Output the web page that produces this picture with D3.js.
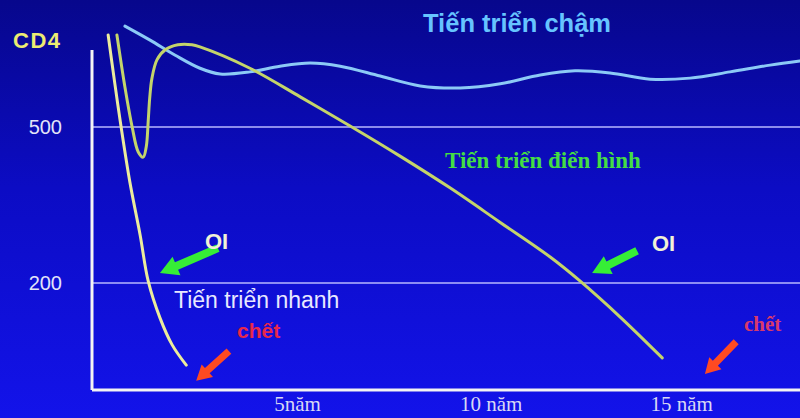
<!DOCTYPE html>
<html><head><meta charset="utf-8">
<script src="https://cdn.jsdelivr.net/npm/d3@7"></script>
<style>html,body{margin:0;padding:0;background:#0c0ca8;}svg{display:block;}</style>
</head><body>
<svg id="c" width="800" height="418"></svg>
<script>
// ---- data ----
const yTicks = [500, 200];
const xTickValues = [5, 10, 15];
const xTickLabels = ["5năm", "10 năm", "15 năm"];
// slow progression (years, CD4)
const slowT = [0.39,1.05,1.71,2.36,2.89,3.67,4.46,5.25,6.04,7.09,8.14,9.19,10.24,11.29,12.2,13.12,14.17,15.22,16.27,17.32,18.1];
const slowV = [694,667,638,613,602,606,617,623,617,598,579,575,583,600,608,604,592,594,606,619,627];
// typical progression
const typT = [0.18,0.39,0.58,0.74,0.87,0.95,1.0,1.04,1.10,1.23,1.44,1.78,2.15,2.36,3.67,4.99,6.30,7.61,8.92,10.23,11.55,12.33,13.38,14.49];
const typV = [677,577,500,452,442,462,510,555,594,629,648,658,658,654,613,558,502,444,383,317,250,204,135,56];
// rapid progression
const fastT = [-0.05,0.13,0.29,0.52,0.79,1.0,1.31,1.63,2.0];
const fastV = [677,581,500,394,292,204,133,81,42];
// arrows: [tailT, tailV, tipT, tipV]
const greenArrows = [[2.83,267,1.31,219],[13.83,262,12.65,219]];
const redArrows = [[3.12,69,2.26,12],[16.43,87,15.61,25]];

const svg = d3.select("#c");
const W = 800, H = 418;
const defs = svg.append("defs");
const g = defs.append("linearGradient").attr("id","bg").attr("x1",0).attr("y1",0).attr("x2",0).attr("y2",1);
g.append("stop").attr("offset","0%").attr("stop-color","#07078c");
g.append("stop").attr("offset","45%").attr("stop-color","#0c0cc4");
g.append("stop").attr("offset","100%").attr("stop-color","#1313ea");
svg.append("rect").attr("width",W).attr("height",H).attr("fill","url(#bg)");

const x = d3.scaleLinear().domain([-0.5, 18]).range([91, 796]);
const y = d3.scaleLinear().domain([0, 700]).range([387, 23]);
const x0 = 92, x1 = 800, yAxisTop = 50, yAxisBot = 390;

// gridlines
svg.selectAll(".grid").data(yTicks).join("line")
  .attr("x1", x0).attr("x2", x1).attr("y1", d=>y(d)).attr("y2", d=>y(d))
  .attr("stroke","#b8b8ff").attr("stroke-width",1.5);

// y tick labels
svg.selectAll(".ylab").data(yTicks).join("text")
  .attr("x", 62).attr("y", d=>y(d)+2).attr("text-anchor","end").attr("dominant-baseline","middle")
  .attr("font-family","Liberation Sans, Arial, sans-serif").attr("font-size",20)
  .attr("fill","#e4e4f8").text(d=>d);

// axes
svg.append("line").attr("x1",x0).attr("x2",x0).attr("y1",yAxisTop).attr("y2",yAxisBot)
  .attr("stroke","#f4f4f4").attr("stroke-width",3);
svg.append("line").attr("x1",x0).attr("x2",x1).attr("y1",yAxisBot).attr("y2",yAxisBot)
  .attr("stroke","#f4f4f4").attr("stroke-width",3);

// x tick labels
svg.selectAll(".xlab").data(xTickValues).join("text")
  .attr("x", d=>x(d)+ (d===5? -3 : 0)).attr("y", 411).attr("text-anchor","middle")
  .attr("font-family","Liberation Serif, Times New Roman, serif").attr("font-size",21)
  .attr("fill","#d8d8f4").text((d,i)=>xTickLabels[i]);

// curves
const line = d3.line().x(d=>x(d[0])).y(d=>y(d[1])).curve(d3.curveCatmullRom.alpha(0.5));
const mk = (T,V)=>T.map((t,i)=>[t,V[i]]);
svg.append("path").attr("d", line(mk(slowT,slowV))).attr("fill","none")
  .attr("stroke","#8ccaf6").attr("stroke-width",3).attr("stroke-linecap","round");
svg.append("path").attr("d", line(mk(typT,typV))).attr("fill","none")
  .attr("stroke","#c4d46a").attr("stroke-width",3).attr("stroke-linecap","round");
svg.append("path").attr("d", line(mk(fastT,fastV))).attr("fill","none")
  .attr("stroke","#ecec9c").attr("stroke-width",3).attr("stroke-linecap","round");

// arrows
function arrowPath(a, shaftW, headW, headL){
  const tx=x(a[0]), ty=y(a[1]), px=x(a[2]), py=y(a[3]);
  const dx=px-tx, dy=py-ty, L=Math.hypot(dx,dy), ux=dx/L, uy=dy/L, nx=-uy, ny=ux;
  const bx=px-ux*headL, by=py-uy*headL;
  const pts=[[tx+nx*shaftW/2,ty+ny*shaftW/2],[bx+nx*shaftW/2,by+ny*shaftW/2],[bx+nx*headW/2,by+ny*headW/2],
    [px,py],[bx-nx*headW/2,by-ny*headW/2],[bx-nx*shaftW/2,by-ny*shaftW/2],[tx-nx*shaftW/2,ty-ny*shaftW/2]];
  return "M"+pts.map(p=>p.join(",")).join("L")+"Z";
}
svg.selectAll(".ga").data(greenArrows).join("path").attr("d",d=>arrowPath(d,8,20,18)).attr("fill","#36ee36");
svg.selectAll(".ra").data(redArrows).join("path").attr("d",d=>arrowPath(d,7,17,15)).attr("fill","#ff4a22");

// texts
const sans = "Liberation Sans, Arial, sans-serif", serif = "Liberation Serif, Times New Roman, serif";
svg.append("text").attr("x",13).attr("y",48).attr("font-family",sans).attr("font-weight","bold")
  .attr("font-size",22).attr("letter-spacing",1.5).attr("fill","#ecec72").text("CD4");
svg.append("text").attr("x",423).attr("y",32).attr("font-family",sans).attr("font-weight","bold")
  .attr("font-size",25.5).attr("fill","#66c4ff").text("Tiến triển chậm");
svg.append("text").attr("x",445).attr("y",168).attr("font-family",serif).attr("font-weight","bold")
  .attr("font-size",23).attr("fill","#44dd44").text("Tiến triển điển hình");
svg.append("text").attr("x",174).attr("y",308).attr("font-family",sans)
  .attr("font-size",23).attr("fill","#e8e8ff").text("Tiến triển nhanh");
svg.append("text").attr("x",205).attr("y",249).attr("font-family",sans).attr("font-weight","bold")
  .attr("font-size",22).attr("fill","#f2f2d6").text("OI");
svg.append("text").attr("x",652).attr("y",251).attr("font-family",sans).attr("font-weight","bold")
  .attr("font-size",22).attr("fill","#f2f2d6").text("OI");
svg.append("text").attr("x",237).attr("y",338).attr("font-family",sans).attr("font-weight","bold")
  .attr("font-size",21).attr("fill","#e8284a").text("chết");
svg.append("text").attr("x",744).attr("y",331).attr("font-family",serif).attr("font-weight","bold")
  .attr("font-size",21).attr("fill","#d83a6a").text("chết");
</script>
</body></html>
